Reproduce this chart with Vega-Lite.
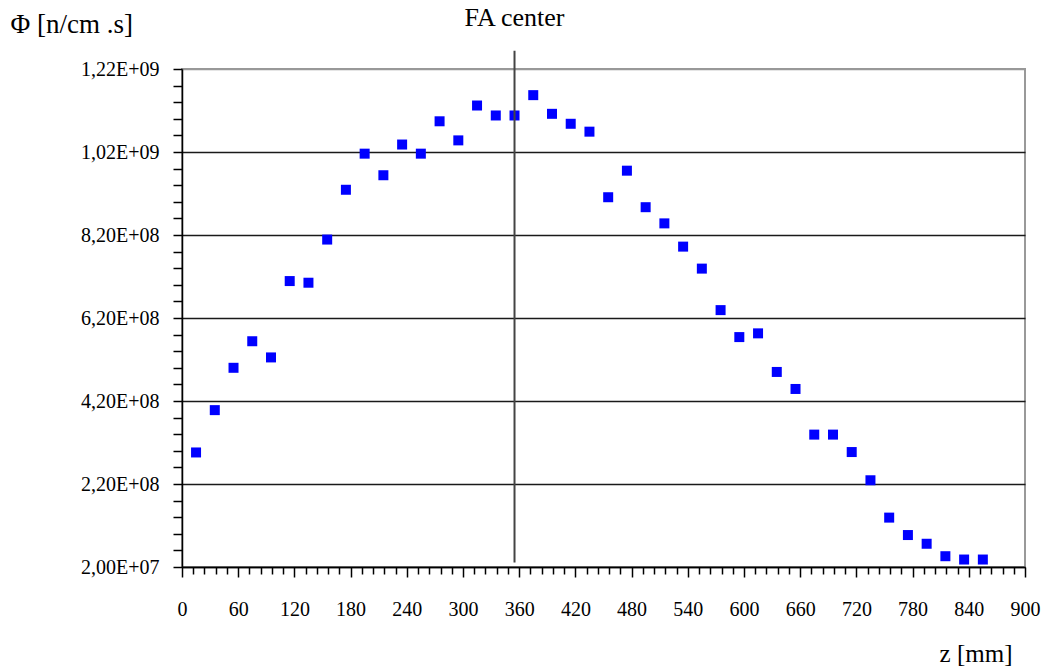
{
  "$schema": "https://vega.github.io/schema/vega-lite/v6.json",
  "width": 843,
  "height": 498,
  "autosize": "none",
  "padding": {"left": 182, "top": 69, "right": 24, "bottom": 102},
  "background": "white",
  "config": {
    "view": {"stroke": "#999999", "strokeWidth": 2},
    "font": "Liberation Serif",
    "axis": {"labelFont": "Liberation Serif", "titleFont": "Liberation Serif", "labelColor": "black", "titleColor": "black", "titleFontWeight": "normal"}
  },
  "datasets": {
    "flux": [
      {"z": 15, "phi": 296000000}, {"z": 35, "phi": 398000000}, {"z": 55, "phi": 500000000},
      {"z": 75, "phi": 564000000}, {"z": 95, "phi": 525000000}, {"z": 115, "phi": 709000000},
      {"z": 135, "phi": 705000000}, {"z": 155, "phi": 809000000}, {"z": 175, "phi": 929000000},
      {"z": 195, "phi": 1016000000}, {"z": 215, "phi": 964000000}, {"z": 235, "phi": 1038000000},
      {"z": 255, "phi": 1016000000}, {"z": 275, "phi": 1094000000}, {"z": 295, "phi": 1048000000},
      {"z": 315, "phi": 1132000000}, {"z": 335, "phi": 1108000000}, {"z": 355, "phi": 1108000000},
      {"z": 375, "phi": 1157000000}, {"z": 395, "phi": 1112000000}, {"z": 415, "phi": 1088000000},
      {"z": 435, "phi": 1069000000}, {"z": 455, "phi": 911000000}, {"z": 475, "phi": 975000000},
      {"z": 495, "phi": 887000000}, {"z": 515, "phi": 848000000}, {"z": 535, "phi": 792000000},
      {"z": 555, "phi": 739000000}, {"z": 575, "phi": 639000000}, {"z": 595, "phi": 574000000},
      {"z": 615, "phi": 583000000}, {"z": 635, "phi": 490000000}, {"z": 655, "phi": 449000000},
      {"z": 675, "phi": 339000000}, {"z": 695, "phi": 339000000}, {"z": 715, "phi": 297000000},
      {"z": 735, "phi": 229000000}, {"z": 755, "phi": 139000000}, {"z": 775, "phi": 97000000},
      {"z": 795, "phi": 76000000}, {"z": 815, "phi": 46000000}, {"z": 835, "phi": 38000000},
      {"z": 855, "phi": 38000000}
    ],
    "center": [{"z": 355, "phi": 31000000, "phi2": 1264000000}],
    "note": [{"z": 355, "phi": 1342000000, "label": "FA center"}]
  },
  "layer": [
    {
      "data": {"name": "flux"},
      "mark": {"type": "point", "shape": "square", "filled": true, "size": 100, "color": "#0000ff", "opacity": 1},
      "encoding": {
        "x": {
          "field": "z", "type": "quantitative",
          "scale": {"domain": [0, 900], "nice": false, "zero": false},
          "axis": {
            "values": [0,12,24,36,48,60,72,84,96,108,120,132,144,156,168,180,192,204,216,228,240,252,264,276,288,300,312,324,336,348,360,372,384,396,408,420,432,444,456,468,480,492,504,516,528,540,552,564,576,588,600,612,624,636,648,660,672,684,696,708,720,732,744,756,768,780,792,804,816,828,840,852,864,876,888,900],
            "tickCount": 500,
            "labelExpr": "datum.value % 60 === 0 ? datum.label : ''",
            "labelOverlap": false,
            "labelFlush": false,
            "labelBound": false,
            "labelFontSize": 20,
            "labelPadding": 22,
            "tickSize": {"condition": {"test": "datum.value % 60 === 0", "value": 10}, "value": 7},
            "tickColor": "black",
            "tickWidth": 1.5,
            "domainColor": "black",
            "domainWidth": 1.5,
            "grid": false,
            "title": "z [mm]",
            "titleFontSize": 25,
            "titleAlign": "right",
            "titleBaseline": "middle",
            "titleX": 830,
            "titleY": 86
          }
        },
        "y": {
          "field": "phi", "type": "quantitative",
          "scale": {"domain": [20000000, 1220000000], "nice": false, "zero": false},
          "axis": {
            "values": [20000000,60000000,100000000,140000000,180000000,220000000,260000000,300000000,340000000,380000000,420000000,460000000,500000000,540000000,580000000,620000000,660000000,700000000,740000000,780000000,820000000,860000000,900000000,940000000,980000000,1020000000,1060000000,1100000000,1140000000,1180000000,1220000000],
            "tickCount": 500,
            "labelExpr": "(datum.value - 20000000) % 200000000 === 0 ? replace(format(datum.value / pow(10, floor(log(datum.value) / LN10)), '.2f'), '.', ',') + 'E+0' + floor(log(datum.value) / LN10) : ''",
            "labelOverlap": false,
            "labelFlush": false,
            "labelBound": false,
            "labelFontSize": 20,
            "labelPadding": 14,
            "tickSize": 9,
            "tickColor": "black",
            "tickWidth": 1.5,
            "domainColor": "black",
            "domainWidth": 1.5,
            "grid": true,
            "gridColor": {"condition": {"test": "datum.value > 1200000000", "value": "#999999"}, "value": "#1a1a1a"},
            "gridOpacity": {"condition": {"test": "(datum.value - 20000000) % 200000000 === 0", "value": 1}, "value": 0},
            "gridWidth": 1.5,
            "title": "Φ [n/cm .s]",
            "titleFontSize": 27,
            "titleAngle": 0,
            "titleAlign": "left",
            "titleBaseline": "middle",
            "titleX": -172,
            "titleY": -45
          }
        }
      }
    },
    {
      "data": {"name": "center"},
      "mark": {"type": "rule", "color": "#444444", "strokeWidth": 2},
      "encoding": {
        "x": {"field": "z", "type": "quantitative"},
        "y": {"field": "phi", "type": "quantitative"},
        "y2": {"field": "phi2"}
      }
    },
    {
      "data": {"name": "note"},
      "mark": {"type": "text", "fontSize": 26, "font": "Liberation Serif", "color": "black", "baseline": "middle", "align": "center"},
      "encoding": {
        "x": {"field": "z", "type": "quantitative"},
        "y": {"field": "phi", "type": "quantitative"},
        "text": {"field": "label"}
      }
    }
  ]
}
